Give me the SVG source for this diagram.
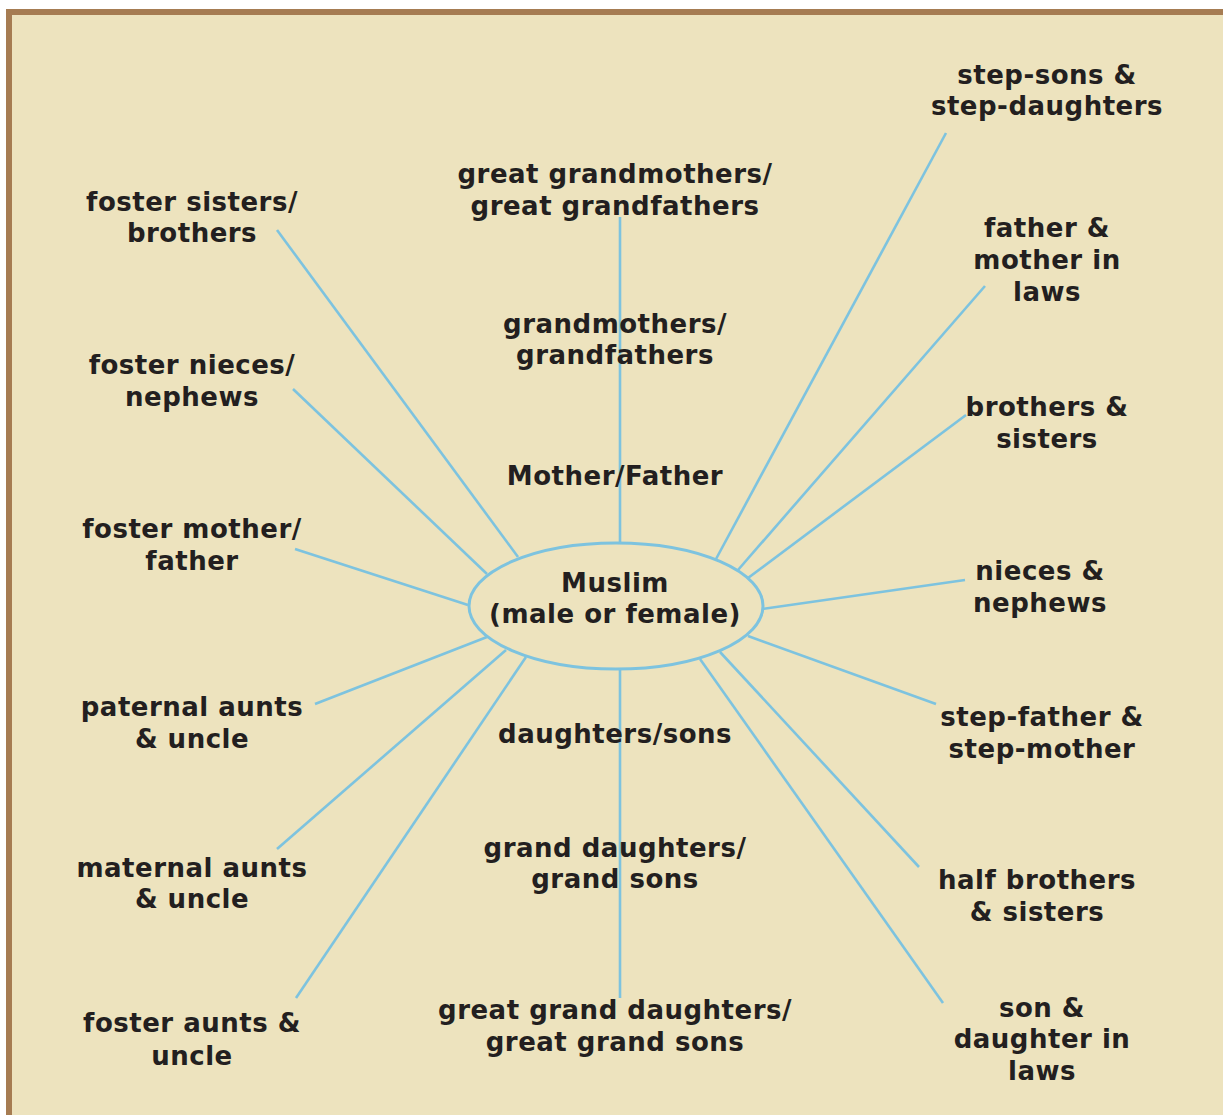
<svg xmlns="http://www.w3.org/2000/svg" width="1223" height="1115" viewBox="0 0 1223 1115">
  <style>
    .lbl { font-family: "DejaVu Sans", "Liberation Sans", sans-serif; font-weight: bold; font-size: 26px; letter-spacing: 0.5px; fill: #231F20; text-anchor: middle; }
    .con { stroke: #7DC3DF; stroke-width: 2.6; fill: none; stroke-linecap: butt; }
  </style>
  <rect x="0" y="0" width="1223" height="1115" fill="#FFFFFF"/>
  <rect x="6" y="9" width="1217" height="1106" fill="#A67C52"/>
  <rect x="12" y="15" width="1211" height="1100" fill="#EDE3BE"/>

  <g id="connectors">
    <line class="con" x1="620" y1="217" x2="620" y2="543"/>
    <line class="con" x1="620" y1="669" x2="620" y2="998"/>
    <line class="con" x1="277" y1="230" x2="518" y2="557"/>
    <line class="con" x1="293" y1="389" x2="487" y2="574"/>
    <line class="con" x1="295" y1="549" x2="468" y2="605"/>
    <line class="con" x1="315" y1="704" x2="487" y2="637"/>
    <line class="con" x1="277" y1="849" x2="506" y2="650"/>
    <line class="con" x1="296" y1="998" x2="526" y2="657"/>
    <line class="con" x1="946" y1="133" x2="716" y2="559"/>
    <line class="con" x1="985" y1="286" x2="738" y2="570"/>
    <line class="con" x1="966" y1="415" x2="748" y2="578"/>
    <line class="con" x1="965" y1="580" x2="762" y2="609"/>
    <line class="con" x1="936" y1="704" x2="748" y2="636"/>
    <line class="con" x1="919" y1="867" x2="720" y2="652"/>
    <line class="con" x1="943" y1="1003" x2="700" y2="659"/>
  </g>

  <g id="center">
    <ellipse cx="616" cy="606" rx="147" ry="63" fill="#EDE3BE" stroke="#7DC3DF" stroke-width="3"/>
    <text class="lbl" x="615" y="592">Muslim</text>
    <text class="lbl" x="615" y="623">(male or female)</text>
  </g>

  <g id="great-grandparents"><text class="lbl" x="615" y="183">great grandmothers/</text><text class="lbl" x="615" y="215">great grandfathers</text></g>
  <g id="grandparents"><text class="lbl" x="615" y="333">grandmothers/</text><text class="lbl" x="615" y="364">grandfathers</text></g>
  <g id="parents"><text class="lbl" x="615" y="485">Mother/Father</text></g>
  <g id="children"><text class="lbl" x="615" y="743">daughters/sons</text></g>
  <g id="grandchildren"><text class="lbl" x="615" y="857">grand daughters/</text><text class="lbl" x="615" y="888">grand sons</text></g>
  <g id="great-grandchildren"><text class="lbl" x="615" y="1019">great grand daughters/</text><text class="lbl" x="615" y="1051">great grand sons</text></g>

  <g id="foster-siblings"><text class="lbl" x="192" y="211">foster sisters/</text><text class="lbl" x="192" y="242">brothers</text></g>
  <g id="foster-nieces"><text class="lbl" x="192" y="374">foster nieces/</text><text class="lbl" x="192" y="406">nephews</text></g>
  <g id="foster-parents"><text class="lbl" x="192" y="538">foster mother/</text><text class="lbl" x="192" y="570">father</text></g>
  <g id="paternal"><text class="lbl" x="192" y="716">paternal aunts</text><text class="lbl" x="192" y="748">&amp; uncle</text></g>
  <g id="maternal"><text class="lbl" x="192" y="877">maternal aunts</text><text class="lbl" x="192" y="908">&amp; uncle</text></g>
  <g id="foster-aunts"><text class="lbl" x="192" y="1032">foster aunts &amp;</text><text class="lbl" x="192" y="1065">uncle</text></g>

  <g id="step-children"><text class="lbl" x="1047" y="84">step-sons &amp;</text><text class="lbl" x="1047" y="115">step-daughters</text></g>
  <g id="parents-in-law"><text class="lbl" x="1047" y="237">father &amp;</text><text class="lbl" x="1047" y="269">mother in</text><text class="lbl" x="1047" y="301">laws</text></g>
  <g id="siblings"><text class="lbl" x="1047" y="416">brothers &amp;</text><text class="lbl" x="1047" y="448">sisters</text></g>
  <g id="nieces"><text class="lbl" x="1040" y="580">nieces &amp;</text><text class="lbl" x="1040" y="612">nephews</text></g>
  <g id="step-parents"><text class="lbl" x="1042" y="726">step-father &amp;</text><text class="lbl" x="1042" y="758">step-mother</text></g>
  <g id="half-siblings"><text class="lbl" x="1037" y="889">half brothers</text><text class="lbl" x="1037" y="921">&amp; sisters</text></g>
  <g id="children-in-law"><text class="lbl" x="1042" y="1017">son &amp;</text><text class="lbl" x="1042" y="1048">daughter in</text><text class="lbl" x="1042" y="1080">laws</text></g>
</svg>
